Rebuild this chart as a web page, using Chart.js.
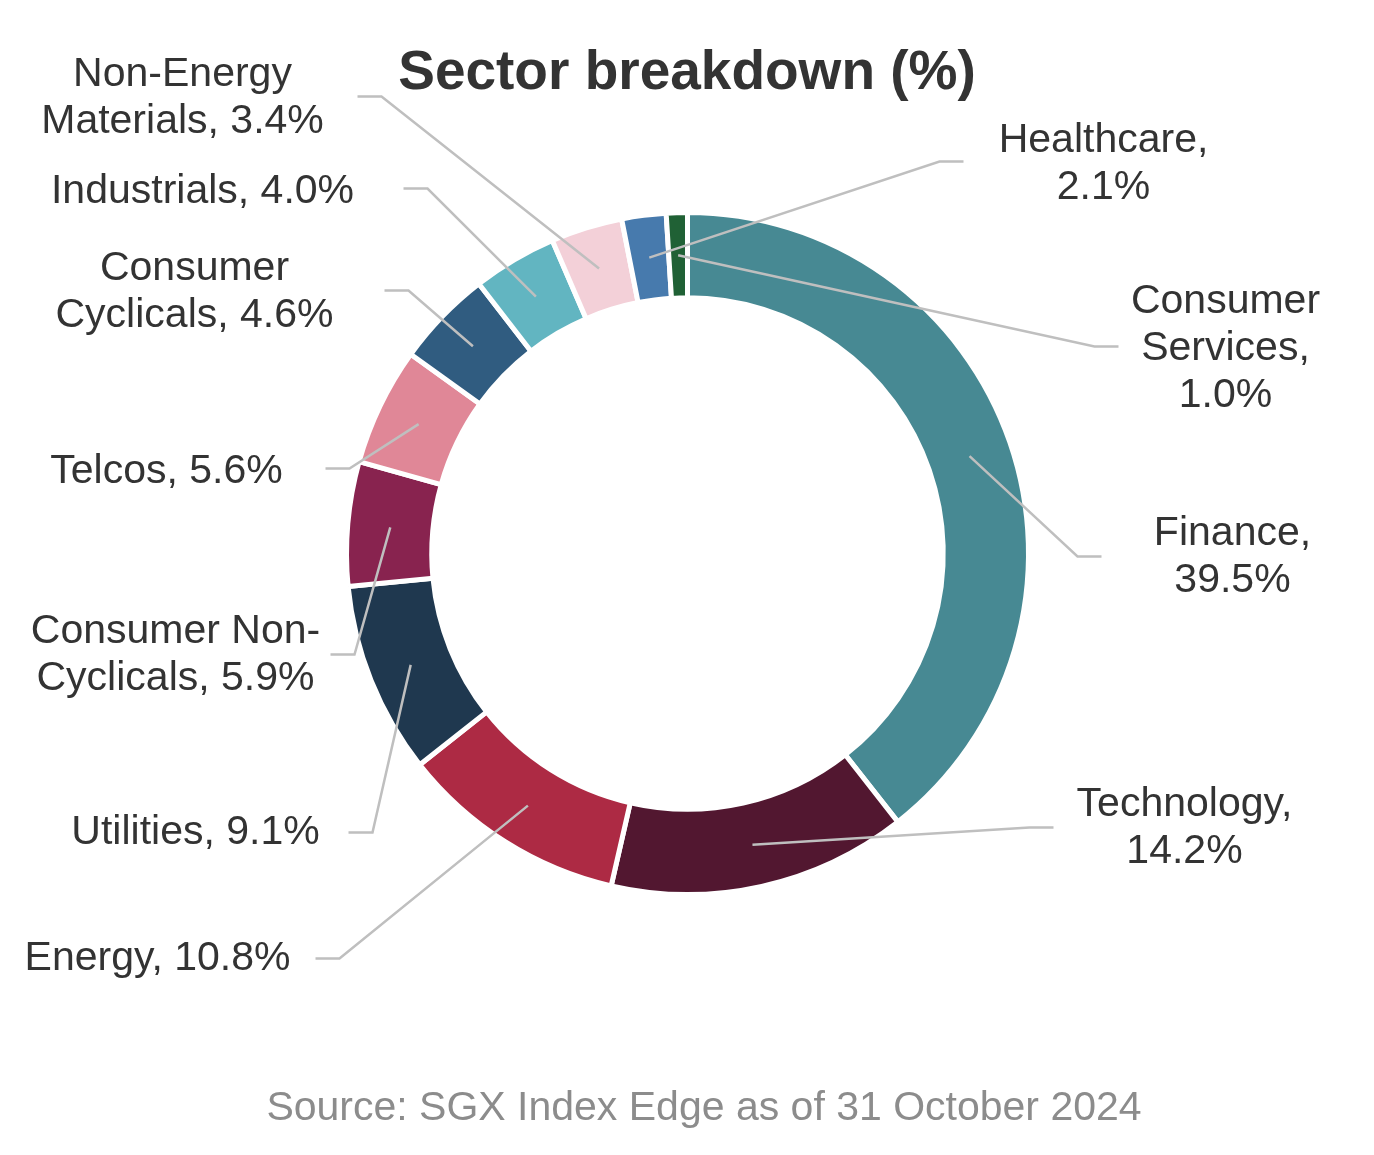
<!DOCTYPE html>
<html>
<head>
<meta charset="utf-8">
<title>Sector breakdown</title>
<script src="https://cdn.jsdelivr.net/npm/chart.js@4.4.1/dist/chart.umd.min.js"></script>
<style>
  html, body { margin: 0; padding: 0; background: #fff; }
  canvas { display: block; }
</style>
</head>
<body>
<canvas id="sectorChart" width="1374" height="1155"></canvas>
<script>
const sectors = ['Finance', 'Technology', 'Energy', 'Utilities', 'Consumer Non-Cyclicals', 'Telcos',
  'Consumer Cyclicals', 'Industrials', 'Non-Energy Materials', 'Healthcare', 'Consumer Services'];
const weights = [39.5, 14.2, 10.8, 9.1, 5.9, 5.6, 4.6, 4.0, 3.4, 2.1, 1.0];
const sectorColors = ['#478993', '#521730', '#ad2a44', '#1f384f', '#88234f', '#e08797',
  '#305c80', '#62b5c1', '#f3d0d8', '#477aad', '#206135'];

const chartTitle = 'Sector breakdown (%)';
const sourceNote = 'Source: SGX Index Edge as of 31 October 2024';

// where each data label sits, as offsets from the doughnut centre:
// elbow of the leader line, centre of the text block, wrap width
const labelSpots = [
  { elbow: [390, 3],     text: [545, 4],     wrap: 200 },
  { elbow: [342, 274],   text: [497, 275],   wrap: 245 },
  { elbow: [-348, 405],  text: [-530, 405],  wrap: 420 },
  { elbow: [-315, 279],  text: [-492, 279],  wrap: 420 },
  { elbow: [-333, 101],  text: [-512, 102],  wrap: 315 },
  { elbow: [-338, -85],  text: [-521, -82],  wrap: 420 },
  { elbow: [-279, -263], text: [-493, -261], wrap: 305 },
  { elbow: [-260, -365], text: [-485, -362], wrap: 420 },
  { elbow: [-306, -457], text: [-505, -455], wrap: 305 },
  { elbow: [252, -392],  text: [416, -389],  wrap: 245 },
  { elbow: [407, -207],  text: [538, -205],  wrap: 205 }
];

const labelFont = '41px "Liberation Sans", Arial, sans-serif';
const lineHeight = 47;

function wrapText(ctx, text, maxWidth) {
  const parts = text.split(/(?<=[ -])/);
  const lines = [];
  let cur = '';
  parts.forEach(p => {
    const test = cur + p;
    if (cur && ctx.measureText(test.trim()).width > maxWidth) {
      lines.push(cur.trim());
      cur = p;
    } else {
      cur = test;
    }
  });
  if (cur) lines.push(cur.trim());
  return lines;
}

const leaderLabels = {
  id: 'leaderLabels',
  afterDatasetsDraw(chart) {
    const ctx = chart.ctx;
    const arcs = chart.getDatasetMeta(0).data;
    ctx.save();
    arcs.forEach((arc, i) => {
      const p = arc.getProps(['x', 'y', 'startAngle', 'endAngle', 'innerRadius', 'outerRadius'], true);
      const mid = (p.startAngle + p.endAngle) / 2;
      const r = (p.innerRadius + p.outerRadius) / 2;
      const spot = labelSpots[i];
      const ax = p.x + Math.cos(mid) * r;
      const ay = p.y + Math.sin(mid) * r;
      const ex = p.x + spot.elbow[0];
      const ey = p.y + spot.elbow[1];
      const dir = spot.text[0] > 0 ? 1 : -1;

      ctx.beginPath();
      ctx.moveTo(ax, ay);
      ctx.lineTo(ex, ey);
      ctx.lineTo(ex + dir * 24, ey);
      ctx.strokeStyle = '#bfbfbf';
      ctx.lineWidth = 2.5;
      ctx.stroke();

      ctx.font = labelFont;
      ctx.fillStyle = '#333333';
      ctx.textAlign = 'center';
      ctx.textBaseline = 'middle';
      const lines = wrapText(ctx, sectors[i] + ', ' + weights[i].toFixed(1) + '%', spot.wrap);
      const top = p.y + spot.text[1] - (lines.length - 1) * lineHeight / 2;
      lines.forEach((ln, k) => ctx.fillText(ln, p.x + spot.text[0], top + k * lineHeight));
    });
    ctx.restore();
  },
  afterDraw(chart) {
    const ctx = chart.ctx;
    ctx.save();
    ctx.textAlign = 'center';
    ctx.textBaseline = 'alphabetic';
    ctx.fillStyle = '#333333';
    ctx.font = 'bold 55px "Liberation Sans", Arial, sans-serif';
    ctx.fillText(chartTitle, 687, 89);
    ctx.fillStyle = '#8c8c8c';
    ctx.font = '41px "Liberation Sans", Arial, sans-serif';
    ctx.fillText(sourceNote, 704, 1120);
    ctx.restore();
  }
};

new Chart(document.getElementById('sectorChart'), {
  type: 'doughnut',
  data: {
    labels: sectors,
    datasets: [{
      data: weights,
      backgroundColor: sectorColors,
      borderColor: '#ffffff',
      borderWidth: 5
    }]
  },
  options: {
    responsive: false,
    animation: false,
    cutout: '75%',
    layout: {
      padding: { top: 210, bottom: 258, left: 344, right: 343 }
    },
    plugins: {
      legend: { display: false },
      tooltip: { enabled: false }
    }
  },
  plugins: [leaderLabels]
});
</script>
</body>
</html>
